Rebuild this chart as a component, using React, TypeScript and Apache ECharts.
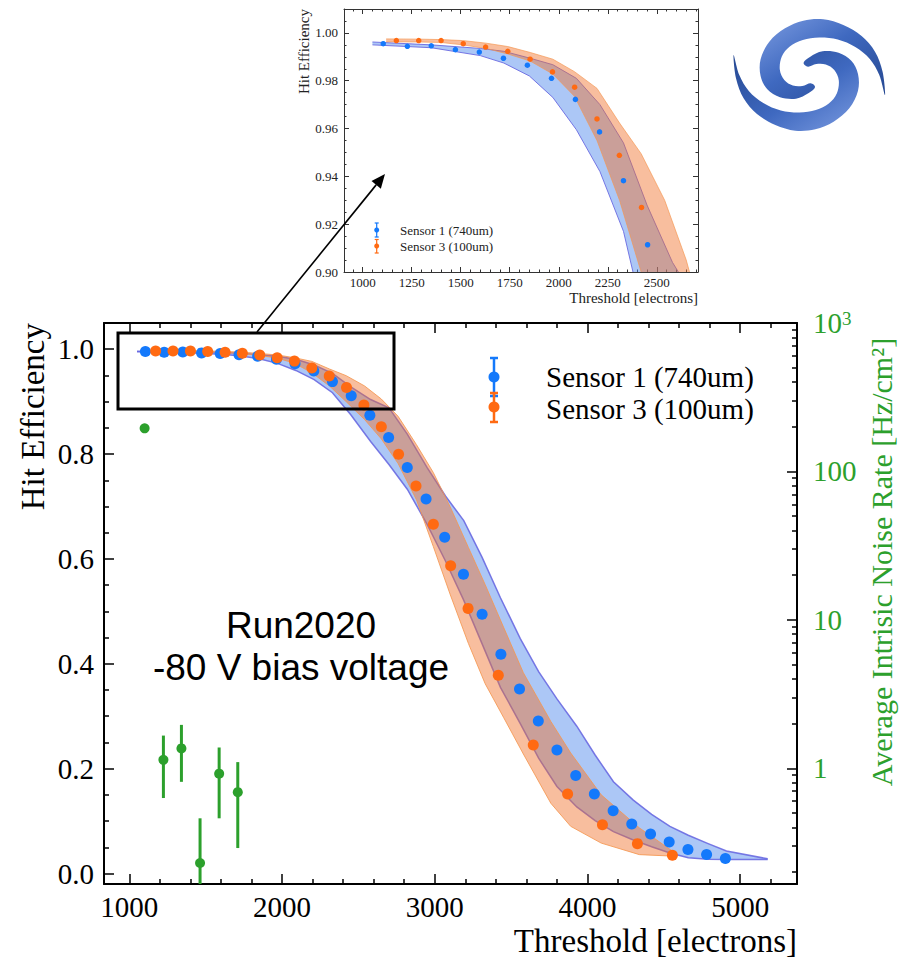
import React, { useEffect, useRef } from "react";
import * as echarts from "echarts";

// ---------------- data ----------------
const blueT = [1105, 1228, 1350, 1473, 1595, 1718, 1840, 1963, 2085, 2208, 2330, 2453, 2575, 2698, 2820, 2943, 3065, 3188, 3310, 3433, 3555, 3678, 3800, 3923, 4045, 4168, 4290, 4413, 4535, 4658, 4780, 4903];
const blueEff = [0.9955, 0.9944, 0.9946, 0.993, 0.992, 0.9894, 0.9865, 0.981, 0.9722, 0.9586, 0.9382, 0.9114, 0.874, 0.8314, 0.7743, 0.7143, 0.6413, 0.5709, 0.4943, 0.4183, 0.352, 0.291, 0.2357, 0.1869, 0.1515, 0.1198, 0.0945, 0.0755, 0.0603, 0.0456, 0.0361, 0.0285];

const orangeT = [1172, 1286, 1400, 1513, 1627, 1740, 1854, 1968, 2081, 2195, 2309, 2422, 2536, 2650, 2763, 2877, 2991, 3104, 3218, 3416, 3645, 3870, 4098, 4327, 4556];
const orangeEff = [0.9968, 0.9968, 0.9968, 0.9955, 0.9941, 0.9923, 0.989, 0.9837, 0.9773, 0.964, 0.9488, 0.927, 0.8935, 0.852, 0.7995, 0.739, 0.666, 0.5869, 0.5057, 0.378, 0.245, 0.1515, 0.0932, 0.057, 0.0348];

const blueBandT = [1050, 1350, 1600, 1720, 1850, 1970, 2090, 2210, 2330, 2450, 2580, 2700, 2820, 2950, 3070, 3190, 3310, 3430, 3560, 3680, 3800, 3930, 4050, 4170, 4300, 4420, 4540, 4660, 4790, 4910, 5180];
const blueBandUpper = [0.9962, 0.995, 0.9935, 0.9923, 0.9895, 0.9867, 0.981, 0.97, 0.954, 0.928, 0.904, 0.888, 0.838, 0.774, 0.72, 0.673, 0.603, 0.526, 0.448, 0.385, 0.333, 0.281, 0.226, 0.175, 0.14, 0.113, 0.09, 0.073, 0.057, 0.043, 0.028];
const blueBandLower = [0.995, 0.9938, 0.9905, 0.9874, 0.982, 0.973, 0.9595, 0.942, 0.917, 0.875, 0.824, 0.78, 0.733, 0.666, 0.596, 0.521, 0.438, 0.355, 0.286, 0.22, 0.166, 0.127, 0.101, 0.08, 0.064, 0.051, 0.039, 0.03, 0.027, 0.0266, 0.0266];

const orangeBandT = [1120, 1290, 1400, 1510, 1630, 1740, 1855, 1970, 2080, 2195, 2310, 2420, 2540, 2650, 2760, 2880, 2990, 3100, 3220, 3330, 3450, 3580, 3760, 3890, 4090, 4340, 4570];
const orangeBandUpper = [0.9975, 0.9974, 0.9972, 0.9968, 0.9957, 0.9943, 0.9918, 0.989, 0.9838, 0.9768, 0.9623, 0.9495, 0.93, 0.905, 0.872, 0.818, 0.765, 0.7, 0.622, 0.551, 0.47, 0.383, 0.29, 0.23, 0.15, 0.087, 0.04];
const orangeBandLower = [0.9963, 0.9962, 0.996, 0.995, 0.9935, 0.9912, 0.9882, 0.9828, 0.9735, 0.955, 0.93, 0.9, 0.866, 0.829, 0.782, 0.713, 0.624, 0.533, 0.439, 0.362, 0.298, 0.228, 0.134, 0.09, 0.058, 0.036, 0.033];

const noiseT = [1100, 1223, 1341, 1463, 1588, 1710];
const noiseRate = [195, 1.14, 1.36, 0.23, 0.92, 0.69];
const noiseLow = [188, 0.63, 0.81, 0.1, 0.46, 0.29];
const noiseHigh = [202, 1.66, 1.96, 0.46, 1.38, 1.1];

const mainXTicks = [1000, 2000, 3000, 4000, 5000];
const mainYTicks = [0, 0.2, 0.4, 0.6, 0.8, 1.0];
const noiseTicks = [1, 10, 100, 1000];
const insetXTicks = [1000, 1250, 1500, 1750, 2000, 2250, 2500];
const insetYTicks = [0.9, 0.92, 0.94, 0.96, 0.98, 1.0];

const seriesNames = ["Sensor 1 (740um)", "Sensor 3 (100um)"];

// ---------------- style ----------------
const SERIF = '"Liberation Serif", "Times New Roman", "DejaVu Serif", serif';
const SANS = '"Liberation Sans", Arial, "DejaVu Sans", sans-serif';
const BLUE = "#1479fb";
const ORANGE = "#ff6a12";
const GREEN = "#2ca02c";
const BLUE_FILL = "rgba(70,130,235,0.45)";
const BLUE_EDGE = "rgba(105,105,225,0.9)";
const ORANGE_FILL = "rgba(240,110,40,0.45)";
const ORANGE_EDGE = "rgba(245,150,80,0.85)";

function minors(min: number, max: number, step: number, majors: number[]) {
  const out: number[] = [];
  for (let k = Math.ceil(min / step - 1e-9); k * step <= max + 1e-9; k++) {
    const v = Math.round(k * step * 1e6) / 1e6;
    if (!majors.some((m) => Math.abs(m - v) < step * 1e-3)) out.push(v);
  }
  return out;
}
function logMinors(min: number, max: number) {
  const out: number[] = [];
  for (const d of [0.1, 1, 10, 100]) {
    for (let m = 2; m <= 9; m++) {
      const v = Math.round(m * d * 1e6) / 1e6;
      if (v >= min && v <= max) out.push(v);
    }
  }
  return out;
}

const MAIN_X = [834, 5372];
const MAIN_Y = [-0.02, 1.05];
const NOISE_Y = [0.166, 1000];
const INSET_X = [905, 2710];
const INSET_Y = [0.9, 1.01];

function mkAxis(o: any) {
  return {
    type: o.type || "value",
    gridIndex: o.grid,
    position: o.pos,
    min: o.min,
    max: o.max,
    ...(o.type === "log" ? { logBase: 10 } : {}),
    axisLine: { show: !!o.line, onZero: false, lineStyle: { color: o.color, width: o.lw || 1 } },
    axisTick: {
      show: true,
      inside: true,
      length: o.len,
      customValues: o.ticks,
      lineStyle: { color: o.color, width: o.tw || 1 },
    },
    axisLabel: o.label ? { show: true, customValues: o.ticks, ...o.label } : { show: false },
    splitLine: { show: false },
    minorTick: { show: false },
    silent: true,
  };
}

// logo path (one arm; second arm is the same rotated by 180 degrees)
const armOuter = [
  [75.7, 20], [73.3, -3.3], [65.7, -23.3], [52.3, -39], [34, -50], [14, -55.7], [-6, -54.3], [-24.3, -46.7],
  [-40, -33.3], [-48.7, -15.7], [-48.7, 1], [-42, 14.3], [-29.3, 22.3], [-13.3, 23.7], [-1, 18.3], [5.7, 12.3],
];
const armInner = [
  [1.3, 8.3], [-7, 11], [-16.5, 10.5], [-25, 5], [-29.5, -5.5], [-27.5, -18.5], [-19.5, -28.5],
  [-6.5, -35], [10, -37.5], [28.5, -35.5], [46, -28], [60.5, -16], [70, 0],
];
function smoothClosed(pts: number[][]) {
  const n = pts.length;
  let d = `M ${pts[0][0]} ${pts[0][1]}`;
  for (let i = 0; i < n; i++) {
    const p0 = pts[(i - 1 + n) % n], p1 = pts[i], p2 = pts[(i + 1) % n], p3 = pts[(i + 2) % n];
    const c1 = [p1[0] + (p2[0] - p0[0]) / 6, p1[1] + (p2[1] - p0[1]) / 6];
    const c2 = [p2[0] - (p3[0] - p1[0]) / 6, p2[1] - (p3[1] - p1[1]) / 6];
    d += ` C ${c1[0].toFixed(2)} ${c1[1].toFixed(2)} ${c2[0].toFixed(2)} ${c2[1].toFixed(2)} ${p2[0]} ${p2[1]}`;
  }
  return d + " Z";
}
echarts.graphic.registerShape("logoArm", echarts.graphic.extendPath(smoothClosed([...armOuter, ...armInner]), {}));

// band drawn as one polygon through the axis scales (custom series, clipped to its grid)
function bandSeries(T: number[], lo: number[], up: number[], xi: number, yi: number, edge: string, fill: string, lw: number, z: number) {
  return {
    type: "custom", xAxisIndex: xi, yAxisIndex: yi, clip: true, silent: true, z,
    data: T.map((t, i) => [t, lo[i], up[i]]),
    renderItem: (params: any, api: any) => {
      if (params.dataIndex !== 0) return null;
      const lower = T.map((t, i) => api.coord([t, lo[i]]));
      const upper = T.map((t, i) => api.coord([t, up[i]]));
      return {
        type: "group",
        children: [
          { type: "polygon", shape: { points: [...lower, ...upper.slice().reverse()] }, style: { fill, stroke: "none" } },
          { type: "polyline", shape: { points: lower }, style: { stroke: edge, lineWidth: lw, fill: "none" } },
          { type: "polyline", shape: { points: upper }, style: { stroke: edge, lineWidth: lw, fill: "none" } },
        ],
      };
    },
  };
}

function legendMarker(x: number, y: number, top: number, bottom: number, r: number, capW: number, color: string, lw: number) {
  return [
    { type: "line", z: 100, shape: { x1: x, y1: top, x2: x, y2: bottom }, style: { stroke: color, lineWidth: lw } },
    { type: "line", z: 100, shape: { x1: x - capW, y1: top, x2: x + capW, y2: top }, style: { stroke: color, lineWidth: lw } },
    { type: "line", z: 100, shape: { x1: x - capW, y1: bottom, x2: x + capW, y2: bottom }, style: { stroke: color, lineWidth: lw } },
    { type: "circle", z: 100, shape: { cx: x, cy: y, r }, style: { fill: color } },
  ];
}

function buildOption() {
  const mainXMinor = minors(MAIN_X[0], MAIN_X[1], 200, mainXTicks);
  const mainYMinor = minors(MAIN_Y[0], MAIN_Y[1], 0.05, mainYTicks);
  const noiseMinor = logMinors(NOISE_Y[0], NOISE_Y[1]);
  const insetXMinor = minors(INSET_X[0], INSET_X[1], 50, insetXTicks);
  const insetYMinor = minors(INSET_Y[0], INSET_Y[1], 0.005, insetYTicks);

  const mainLabel = { fontSize: 29, fontFamily: SERIF, color: "#000" };
  const insetLabel = { fontSize: 13, fontFamily: SERIF, color: "#222" };
  const IC = "#333";

  const xAxis = [
    mkAxis({ grid: 0, pos: "bottom", min: MAIN_X[0], max: MAIN_X[1], ticks: mainXTicks, len: 10, color: "#000", lw: 2, tw: 1.5, line: true,
      label: { ...mainLabel, margin: 8, formatter: (v: number) => String(Math.round(v)) } }),
    mkAxis({ grid: 0, pos: "bottom", min: MAIN_X[0], max: MAIN_X[1], ticks: mainXMinor, len: 5, color: "#000", tw: 1.5 }),
    mkAxis({ grid: 0, pos: "top", min: MAIN_X[0], max: MAIN_X[1], ticks: mainXTicks, len: 10, color: "#000", lw: 2, tw: 1.5, line: true }),
    mkAxis({ grid: 0, pos: "top", min: MAIN_X[0], max: MAIN_X[1], ticks: mainXMinor, len: 5, color: "#000", tw: 1.5 }),
    mkAxis({ grid: 1, pos: "bottom", min: INSET_X[0], max: INSET_X[1], ticks: insetXTicks, len: 5, color: IC, lw: 1, line: true,
      label: { ...insetLabel, margin: 4, formatter: (v: number) => String(Math.round(v)) } }),
    mkAxis({ grid: 1, pos: "bottom", min: INSET_X[0], max: INSET_X[1], ticks: insetXMinor, len: 2.5, color: IC }),
    mkAxis({ grid: 1, pos: "top", min: INSET_X[0], max: INSET_X[1], ticks: insetXTicks, len: 5, color: IC, lw: 1, line: true }),
    mkAxis({ grid: 1, pos: "top", min: INSET_X[0], max: INSET_X[1], ticks: insetXMinor, len: 2.5, color: IC }),
  ];

  const yAxis = [
    mkAxis({ grid: 0, pos: "left", min: MAIN_Y[0], max: MAIN_Y[1], ticks: mainYTicks, len: 10, color: "#000", lw: 2, tw: 1.5, line: true,
      label: { ...mainLabel, margin: 10, formatter: (v: number) => v.toFixed(1) } }),
    mkAxis({ grid: 0, pos: "left", min: MAIN_Y[0], max: MAIN_Y[1], ticks: mainYMinor, len: 5, color: "#000", tw: 1.5 }),
    mkAxis({ grid: 0, pos: "right", type: "log", min: NOISE_Y[0], max: NOISE_Y[1], ticks: noiseTicks, len: 10, color: "#000", lw: 2, tw: 1.5, line: true,
      label: {
        fontSize: 29, fontFamily: SERIF, color: GREEN, margin: 16,
        formatter: (v: number) => (Math.round(v) >= 1000 ? "{b|10}{s|3}" : String(Math.round(v))),
        rich: {
          b: { fontSize: 29, fontFamily: SERIF, color: GREEN },
          s: { fontSize: 19, fontFamily: SERIF, color: GREEN, verticalAlign: "top" },
        },
      } }),
    mkAxis({ grid: 0, pos: "right", type: "log", min: NOISE_Y[0], max: NOISE_Y[1], ticks: noiseMinor, len: 5, color: "#000", tw: 1.5 }),
    mkAxis({ grid: 1, pos: "left", min: INSET_Y[0], max: INSET_Y[1], ticks: insetYTicks, len: 5, color: IC, lw: 1, line: true,
      label: { ...insetLabel, margin: 6, formatter: (v: number) => v.toFixed(2) } }),
    mkAxis({ grid: 1, pos: "left", min: INSET_Y[0], max: INSET_Y[1], ticks: insetYMinor, len: 2.5, color: IC }),
    mkAxis({ grid: 1, pos: "right", min: INSET_Y[0], max: INSET_Y[1], ticks: insetYTicks, len: 5, color: IC, lw: 1, line: true }),
    mkAxis({ grid: 1, pos: "right", min: INSET_Y[0], max: INSET_Y[1], ticks: insetYMinor, len: 2.5, color: IC }),
  ];

  const series: any[] = [
    bandSeries(blueBandT, blueBandLower, blueBandUpper, 0, 0, BLUE_EDGE, BLUE_FILL, 1.5, 1),
    bandSeries(orangeBandT, orangeBandLower, orangeBandUpper, 0, 0, ORANGE_EDGE, ORANGE_FILL, 1, 2),
    { type: "scatter", name: seriesNames[0], xAxisIndex: 0, yAxisIndex: 0, data: blueT.map((t, i) => [t, blueEff[i]]),
      symbolSize: 11, itemStyle: { color: BLUE, opacity: 1 }, z: 3, silent: true },
    { type: "scatter", name: seriesNames[1], xAxisIndex: 0, yAxisIndex: 0, data: orangeT.map((t, i) => [t, orangeEff[i]]),
      symbolSize: 11, itemStyle: { color: ORANGE, opacity: 1 }, z: 4, silent: true },
    {
      type: "custom", xAxisIndex: 0, yAxisIndex: 2, clip: true, z: 5, silent: true,
      data: noiseT.map((t, i) => [t, noiseLow[i], noiseHigh[i]]),
      renderItem: (params: any, api: any) => {
        const cs = params.coordSys;
        const a = api.coord([api.value(0), api.value(1)]);
        const b = api.coord([api.value(0), api.value(2)]);
        const clampY = (y: number) => Math.max(cs.y, Math.min(cs.y + cs.height, y));
        return {
          type: "line",
          shape: { x1: a[0], y1: clampY(a[1]), x2: b[0], y2: clampY(b[1]) },
          style: { stroke: GREEN, lineWidth: 3 },
        };
      },
    },
    { type: "scatter", xAxisIndex: 0, yAxisIndex: 2, data: noiseT.map((t, i) => [t, noiseRate[i]]),
      symbolSize: 10, itemStyle: { color: GREEN, opacity: 1 }, z: 6, silent: true },
    // inset
    bandSeries(blueBandT, blueBandLower, blueBandUpper, 4, 4, BLUE_EDGE, BLUE_FILL, 1, 1),
    bandSeries(orangeBandT, orangeBandLower, orangeBandUpper, 4, 4, ORANGE_EDGE, ORANGE_FILL, 0.8, 2),
    { type: "scatter", xAxisIndex: 4, yAxisIndex: 4, data: blueT.map((t, i) => [t, blueEff[i]]),
      symbolSize: 5.5, itemStyle: { color: BLUE, opacity: 1 }, z: 3, silent: true },
    { type: "scatter", xAxisIndex: 4, yAxisIndex: 4, data: orangeT.map((t, i) => [t, orangeEff[i]]),
      symbolSize: 5.5, itemStyle: { color: ORANGE, opacity: 1 }, z: 4, silent: true },
  ];

  // arrow geometry
  const ax1 = 257, ay1 = 332, tipX = 385, tipY = 174;
  const dx = tipX - ax1, dy = tipY - ay1;
  const L = Math.hypot(dx, dy);
  const ux = dx / L, uy = dy / L;
  const hl = 14, hw = 6;
  const bx = tipX - hl * ux, by = tipY - hl * uy;

  const logoFill = {
    type: "linear", x: 0, y: 0, x2: 1, y2: 1,
    colorStops: [
      { offset: 0, color: "#7b9be0" },
      { offset: 0.45, color: "#3f69c0" },
      { offset: 1, color: "#24468f" },
    ],
  };

  const txt = (x: number, y: number, text: string, fontSize: number, fill: string, align: string, extra: any = {}, family = SERIF) => ({
    type: "text", x, y, z: 100, ...extra,
    style: { text, fontSize, fontFamily: family, fill, align, verticalAlign: "middle" },
  });

  const graphic: any[] = [
    // main axis titles
    txt(797, 941, "Threshold [electrons]", 33, "#000", "right"),
    txt(33, 323, "Hit Efficiency", 33, "#000", "right", { rotation: Math.PI / 2 }),
    txt(881, 562, "Average Intrisic Noise Rate [Hz/cm²]", 30, GREEN, "center", { rotation: Math.PI / 2 }),
    // inset titles
    txt(698, 298, "Threshold [electrons]", 15, "#222", "right"),
    txt(304, 9, "Hit Efficiency", 15, "#222", "right", { rotation: Math.PI / 2 }),
    // annotation text
    txt(301, 625, "Run2020", 37, "#000", "center", {}, SANS),
    txt(301, 667, "-80 V bias voltage", 37, "#000", "center", {}, SANS),
    // main legend
    ...legendMarker(494, 377, 358, 396, 5.5, 4, BLUE, 2.5),
    ...legendMarker(494, 407, 393, 422, 5.5, 4, ORANGE, 2.5),
    txt(546, 377, seriesNames[0], 29, "#000", "left"),
    txt(546, 409, seriesNames[1], 29, "#000", "left"),
    // inset legend
    ...legendMarker(376.7, 230, 223, 237, 2.5, 2, BLUE, 1.2),
    ...legendMarker(376.7, 246, 239.5, 253, 2.5, 2, ORANGE, 1.2),
    txt(400, 230, seriesNames[0], 13, "#222", "left"),
    txt(400, 246, seriesNames[1], 13, "#222", "left"),
    // zoom box and arrow
    { type: "rect", z: 100, shape: { x: 118, y: 333, width: 276, height: 76 }, style: { fill: "none", stroke: "#000", lineWidth: 3 } },
    { type: "line", z: 100, shape: { x1: ax1, y1: ay1, x2: bx, y2: by }, style: { stroke: "#000", lineWidth: 1.6 } },
    { type: "polygon", z: 100, shape: { points: [[tipX, tipY], [bx - hw * uy, by + hw * ux], [bx + hw * uy, by - hw * ux]] }, style: { fill: "#000" } },
    // logo
    { type: "logoArm", z: 100, x: 809.3, y: 75, style: { fill: logoFill } },
    { type: "logoArm", z: 100, x: 809.3, y: 75, rotation: Math.PI, style: { fill: logoFill } },
  ];

  return {
    animation: false,
    backgroundColor: "#fff",
    grid: [
      { left: 104, top: 323, width: 693, height: 561 },
      { left: 344, top: 9, width: 354, height: 263 },
    ],
    xAxis,
    yAxis,
    series,
    graphic,
  };
}

export default function App() {
  const ref = useRef<HTMLDivElement>(null);
  useEffect(() => {
    if (!ref.current) return;
    const chart = echarts.init(ref.current, null, { renderer: "svg" });
    chart.setOption(buildOption() as any);
    return () => chart.dispose();
  }, []);
  return <div ref={ref} style={{ position: "absolute", left: 0, top: 0, width: 900, height: 958 }} />;
}
